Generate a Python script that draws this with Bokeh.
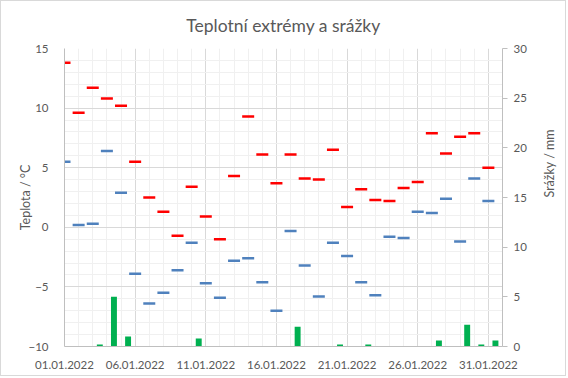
import math
from bokeh.plotting import figure
from bokeh.models import (Range1d, LinearAxis, FixedTicker, SingleIntervalTicker,
                          ColumnDataSource)
from bokeh.embed import file_html
from bokeh.resources import INLINE

# ---- data ----
dates = ["%02d.01.2022" % d for d in range(1, 32)]
tmax = [13.8, 9.6, 11.7, 10.8, 10.2, 5.5, 2.5, 1.3, -0.7, 3.4, 0.9, -1.0, 4.3, 9.3, 6.1,
        3.7, 6.1, 4.1, 4.0, 6.5, 1.7, 3.2, 2.3, 2.2, 3.3, 3.8, 7.9, 6.2, 7.6, 7.9, 5.0]
tmin = [5.5, 0.2, 0.3, 6.4, 2.9, -3.9, -6.4, -5.5, -3.6, -1.3, -4.7, -5.9, -2.8, -2.6, -4.6,
        -7.0, -0.3, -3.2, -5.8, -1.3, -2.4, -4.6, -5.7, -0.8, -0.9, 1.3, 1.2, 2.4, -1.2, 4.1, 2.2]
precip = [0, 0, 0.2, 5.0, 1.0, 0, 0, 0, 0, 0.8, 0, 0, 0, 0, 0, 0, 2.0, 0, 0, 0.2, 0,
          0.2, 0, 0, 0, 0, 0.6, 0, 2.2, 0.2, 0.6]

title = "Teplotní extrémy a srážky"
ylabel_left = "Teplota / °C"
ylabel_right = "Srážky / mm"

n = len(dates)
idx = list(range(n))
src = ColumnDataSource(dict(x=idx, xb=[i + 0.5 for i in idx], tmax=tmax, tmin=tmin, p=precip))

FONT = "Lato"
GRAY = "#595959"

p = figure(width=566, height=376, output_backend="svg", toolbar_location=None,
           x_range=Range1d(0, n), y_range=Range1d(-10, 15),
           min_border_left=63, min_border_right=60, min_border_top=47, min_border_bottom=31)
p.styles = {"border": "1px solid #d9d9d9"}
p.outline_line_color = None
p.background_fill_color = "white"
p.border_fill_color = "white"

p.title.text = title
p.title.align = "center"
p.title.vertical_align = "middle"
p.title.text_font = FONT
p.title.text_font_size = "17.5px"
p.title.text_font_style = "normal"
p.title.text_color = GRAY
p.title.standoff = 24

p.extra_y_ranges = {"p": Range1d(0, 30)}

# x axis
major_x = [i for i in range(0, n, 5)]
minor_x = [i for i in range(0, n + 1) if i % 5 != 0]
xt = FixedTicker(ticks=major_x, minor_ticks=minor_x)
p.xaxis.ticker = xt
p.xgrid.ticker = xt
p.xaxis.major_label_overrides = {i: dates[i] for i in major_x}

yt = SingleIntervalTicker(interval=5, num_minor_ticks=5)
p.yaxis.ticker = yt
p.ygrid.ticker = yt

for g in (p.xgrid, p.ygrid):
    g.grid_line_color = "#d9d9d9"
    g.minor_grid_line_color = "#f0f0f0"

for ax in (p.xaxis, p.yaxis):
    ax.axis_line_color = "#bfbfbf"
    ax.major_tick_line_color = None
    ax.minor_tick_line_color = None
    ax.major_label_text_font = FONT
    ax.major_label_text_font_size = "11.5px"
    ax.major_label_text_color = GRAY
    ax.axis_label_text_font = FONT
    ax.axis_label_text_font_size = "12.5px"
    ax.axis_label_text_font_style = "normal"
    ax.axis_label_text_color = GRAY

p.xaxis.major_label_standoff = 8
p.yaxis.major_label_standoff = 10
p.yaxis.axis_label = ylabel_left
p.yaxis.axis_label_standoff = -8

ra = LinearAxis(y_range_name="p", ticker=SingleIntervalTicker(interval=5),
                axis_label=ylabel_right)
ra.axis_line_color = "#bfbfbf"
ra.major_tick_line_color = "#bfbfbf"
ra.major_tick_in = 0
ra.major_tick_out = 5
ra.minor_tick_line_color = None
ra.major_label_standoff = 6
ra.major_label_text_font = FONT
ra.major_label_text_font_size = "11.5px"
ra.major_label_text_color = GRAY
ra.axis_label_text_font = FONT
ra.axis_label_text_font_size = "12.5px"
ra.axis_label_text_font_style = "normal"
ra.axis_label_text_color = GRAY
ra.axis_label_standoff = 20
ra.axis_label_orientation = math.pi / 2
p.add_layout(ra, "right")

p.vbar(x="xb", top="p", bottom=0, width=0.42, source=src, y_range_name="p",
       fill_color="#00B050", line_color=None)
p.scatter(x="x", y="tmax", source=src, marker="dash", size=12, line_width=2.5,
          line_color="#FF0000")
p.scatter(x="x", y="tmin", source=src, marker="dash", size=12, line_width=2.5,
          line_color="#4F81BD")

open("out.html", "w").write(file_html(p, INLINE))
